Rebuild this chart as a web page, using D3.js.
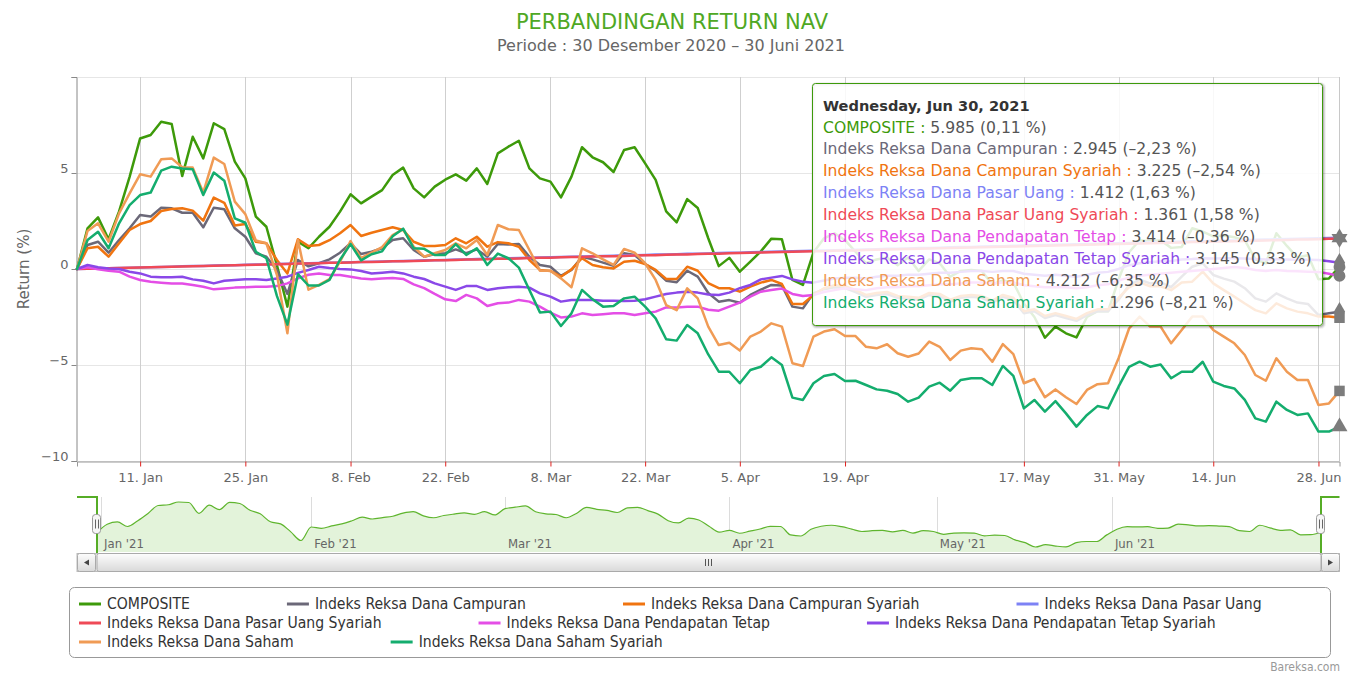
<!DOCTYPE html>
<html>
<head>
<meta charset="utf-8">
<script src="https://d3js.org/d3.v7.min.js"></script>
<style>
  body { margin: 0; background: #fff; }
  svg { display: block; }
</style>
</head>
<body>
<svg id="chart" width="1361" height="674"></svg>
<script>
// trading days (ordinal axis, holidays skipped)
const daysDec2020 = [30];
const daysJan = [4,5,6,7,8,11,12,13,14,15,18,19,20,21,22,25,26,27,28,29];
const daysFeb = [1,2,3,4,5,8,9,10,11,15,16,17,18,19,22,23,24,25,26];
const daysMar = [1,2,3,4,5,8,9,10,12,15,16,17,18,19,22,23,24,25,26,29,30,31];
const daysApr = [1,5,6,7,8,9,12,13,14,15,16,19,20,21,22,23,26,27,28,29,30];
const daysMay = [3,4,5,6,7,10,11,17,18,19,20,21,24,25,27,28,31];
const daysJun = [2,3,4,7,8,9,10,11,14,15,16,17,18,21,22,23,24,25,28,29,30];

const seriesNames = [
  "COMPOSITE",
  "Indeks Reksa Dana Campuran",
  "Indeks Reksa Dana Campuran Syariah",
  "Indeks Reksa Dana Pasar Uang",
  "Indeks Reksa Dana Pasar Uang Syariah",
  "Indeks Reksa Dana Pendapatan Tetap",
  "Indeks Reksa Dana Pendapatan Tetap Syariah",
  "Indeks Reksa Dana Saham",
  "Indeks Reksa Dana Saham Syariah"
];
const seriesColors = ["#3d9a0a", "#6b6878", "#f07410", "#7d82f5", "#ef4a57",
                      "#e44ee6", "#8a48e8", "#f09b55", "#14ad6e"];
// hover marker shapes, second entry of each pair = rotation
const markerSymbols = [[d3.symbolCircle, 0], [d3.symbolDiamond, 0], [d3.symbolSquare, 0], [d3.symbolTriangle, 0],
                       [d3.symbolTriangle, 180], [d3.symbolCircle, 0], [d3.symbolDiamond, 0], [d3.symbolSquare, 0],
                       [d3.symbolTriangle, 0]];

// return (%) since 30 Dec 2020
const composite = [
  0, 2.12, 2.69, 1.55, 3.0, 4.8, 6.8, 6.98, 7.67, 7.55,
  4.84, 6.89, 5.76, 7.59, 7.29, 5.59, 4.72, 2.73, 2.2, 0.2,
  -1.96, 1.42, 1.08, 1.68, 2.2, 2.99, 3.89, 3.42, 3.77, 4.11,
  4.9, 5.28, 4.2, 3.73, 4.29, 4.65, 4.93, 4.6, 5.24, 4.43,
  6.02, 6.37, 6.68, 5.24, 4.72, 4.55, 3.73, 4.81, 6.34, 5.82,
  5.56, 5.05, 6.2, 6.34, 5.5, 4.64, 3.0, 2.43, 3.64, 3.18,
  1.6, 0.15, 0.58, -0.14, 0.38, 0.92, 1.58, 1.55, -0.57, -0.83,
  0.86, 1.6, 1.86, 1.5, 0.9, 0.3, 0.5, 0.6, 0.2, 0.6,
  -0.1, 0.5, 0.3, -0.4, -0.1, -0.05, -0.1, -0.8, -0.6, -0.7,
  -1.8, -2.5, -3.58, -3.0, -3.35, -3.56, -2.5, -2.2, -2.2, -0.55,
  0.87, 1.5, 1.45, 1.5, 1.1, 1.15, 2.12, 1.95, 1.7, 1.75,
  1.65, 1.5, 0.5, 0.3, 1.86, 1.2, 0.6, 0.72, -0.53, -0.49,
  0.11
];
const campuran = [
  0, 1.25, 1.42, 0.85, 1.51, 2.12, 2.81, 2.73, 3.19, 3.16,
  2.93, 2.93, 2.17, 3.19, 3.11, 2.12, 1.68, 0.82, 0.64, -0.05,
  -1.3, 0.47, 0.14, 0.3, 0.5, 0.85, 1.34, 0.78, 0.9, 1.08,
  1.51, 1.6, 0.99, 0.64, 0.78, 0.82, 1.02, 0.82, 1.02, 0.64,
  1.3, 1.28, 1.3, 0.64, 0.21, 0.12, -0.36, -0.05, 0.64, 0.5,
  0.33, 0.17, 0.82, 0.73, 0.26, -0.09, -0.61, -0.69, -0.09, -0.4,
  -1.25, -1.7, -1.62, -1.76, -1.35, -1.08, -0.83, -0.86, -1.96, -2.05,
  -1.27, -1.05, -0.95, -1.0, -1.2, -1.45, -1.35, -1.3, -1.5, -1.55,
  -1.6, -1.35, -1.4, -1.7, -1.5, -1.45, -1.5, -1.75, -1.45, -1.6,
  -2.3, -2.2, -2.55, -2.4, -2.55, -2.7, -2.4, -2.2, -2.2, -1.6,
  -0.85, -0.55, -0.75, -0.7, -0.95, -0.4, 0.12, 0.3, -0.31, -0.5,
  -0.66, -1.0, -1.53, -1.7, -1.27, -1.53, -1.75, -1.82, -2.4, -2.31,
  -2.23
];
const campuranSyariah = [
  0, 1.08, 1.16, 0.64, 1.34, 2.03, 2.34, 2.5, 3.02, 3.12,
  3.16, 3.04, 2.52, 3.72, 3.45, 2.26, 2.34, 1.42, 1.34, 0.47,
  -0.23, 1.55, 1.2, 1.25, 1.5, 1.86, 2.29, 1.72, 1.89, 2.03,
  2.17, 2.03, 1.42, 1.2, 1.2, 1.25, 1.6, 1.34, 1.68, 1.16,
  1.4, 1.34, 1.16, 0.47, -0.05, -0.1, -0.4, -0.02, 0.56, 0.21,
  0.09, 0.03, 0.38, 0.43, 0.26, -0.05, -0.52, -0.52, 0.12, -0.09,
  -0.73, -1.0, -1.0, -1.18, -0.92, -0.71, -0.57, -0.78, -1.82, -1.82,
  -1.35, -1.0, -0.85, -0.9, -1.1, -1.35, -1.25, -1.2, -1.4, -1.45,
  -1.5, -1.25, -1.3, -1.6, -1.4, -1.35, -1.4, -1.65, -1.35, -1.5,
  -2.2, -2.1, -2.45, -2.3, -2.45, -2.6, -2.3, -2.1, -2.1, -1.5,
  -0.95, -0.7, -0.9, -0.9, -1.1, -0.7, -0.66, -0.14, -0.75, -1.1,
  -1.44, -1.8, -2.14, -2.31, -1.79, -2.05, -2.22, -2.31, -2.48, -2.48,
  -2.54
];
const pasarUang = [
  0, 0.01, 0.03, 0.04, 0.05, 0.07, 0.08, 0.09, 0.11, 0.12,
  0.14, 0.15, 0.16, 0.18, 0.19, 0.2, 0.22, 0.23, 0.24, 0.26,
  0.27, 0.28, 0.3, 0.31, 0.33, 0.34, 0.35, 0.37, 0.38, 0.39,
  0.41, 0.42, 0.43, 0.45, 0.46, 0.47, 0.49, 0.5, 0.52, 0.53,
  0.54, 0.56, 0.57, 0.58, 0.6, 0.61, 0.62, 0.64, 0.65, 0.66,
  0.68, 0.69, 0.71, 0.72, 0.73, 0.75, 0.76, 0.77, 0.79, 0.8,
  0.81, 0.83, 0.84, 0.85, 0.87, 0.88, 0.9, 0.91, 0.92, 0.94,
  0.95, 0.96, 0.98, 0.99, 1.0, 1.02, 1.03, 1.05, 1.06, 1.07,
  1.09, 1.1, 1.11, 1.13, 1.14, 1.15, 1.17, 1.18, 1.19, 1.21,
  1.22, 1.24, 1.25, 1.26, 1.28, 1.29, 1.3, 1.32, 1.33, 1.34,
  1.36, 1.37, 1.39, 1.4, 1.41, 1.43, 1.44, 1.45, 1.47, 1.48,
  1.49, 1.51, 1.52, 1.53, 1.55, 1.56, 1.58, 1.59, 1.6, 1.62,
  1.63
];
const pasarUangSyariah = [
  0, 0.01, 0.03, 0.04, 0.05, 0.07, 0.08, 0.09, 0.1, 0.12,
  0.13, 0.14, 0.16, 0.17, 0.18, 0.2, 0.21, 0.22, 0.24, 0.25,
  0.26, 0.28, 0.29, 0.3, 0.32, 0.33, 0.34, 0.36, 0.37, 0.38,
  0.4, 0.41, 0.42, 0.43, 0.45, 0.46, 0.47, 0.49, 0.5, 0.51,
  0.53, 0.54, 0.55, 0.57, 0.58, 0.59, 0.61, 0.62, 0.63, 0.65,
  0.66, 0.67, 0.68, 0.7, 0.71, 0.72, 0.74, 0.75, 0.76, 0.78,
  0.79, 0.8, 0.82, 0.83, 0.84, 0.86, 0.87, 0.88, 0.9, 0.91,
  0.92, 0.93, 0.95, 0.96, 0.97, 0.99, 1.0, 1.01, 1.03, 1.04,
  1.05, 1.07, 1.08, 1.09, 1.11, 1.12, 1.13, 1.15, 1.16, 1.17,
  1.18, 1.2, 1.21, 1.22, 1.24, 1.25, 1.26, 1.28, 1.29, 1.3,
  1.32, 1.33, 1.34, 1.36, 1.37, 1.38, 1.4, 1.41, 1.42, 1.43,
  1.45, 1.46, 1.47, 1.49, 1.5, 1.51, 1.53, 1.54, 1.55, 1.57,
  1.58
];
const pendapatanTetap = [
  0, 0.09, -0.02, -0.09, -0.14, -0.4, -0.57, -0.66, -0.71, -0.75,
  -0.75, -0.83, -0.92, -1.06, -1.01, -0.97, -0.95, -0.92, -0.92, -0.89,
  -0.75, -0.49, -0.3, -0.23, -0.31, -0.31, -0.4, -0.49, -0.54, -0.49,
  -0.47, -0.52, -0.8, -1.0, -1.3, -1.58, -1.67, -1.35, -1.53, -1.93,
  -1.78, -1.75, -1.61, -1.7, -1.96, -2.27, -2.52, -2.48, -2.31, -2.4,
  -2.36, -2.31, -2.31, -2.4, -2.31, -2.22, -2.0, -2.0, -1.96, -1.96,
  -2.12, -2.17, -1.96, -1.75, -1.44, -1.18, -1.09, -1.02, -1.3, -1.41,
  -1.35, -1.2, -1.1, -1.0, -1.05, -1.1, -1.0, -0.95, -0.95, -0.9,
  -0.9, -0.85, -0.8, -0.8, -0.75, -0.7, -0.7, -0.75, -0.7, -0.7,
  -0.85, -0.9, -0.95, -0.95, -0.95, -1.0, -0.95, -0.85, -0.8, -0.6,
  -0.45, -0.35, -0.3, -0.25, -0.2, -0.14, -0.1, -0.05, 0.0, 0.05,
  0.1, 0.05, -0.05, -0.1, -0.05, -0.1, -0.12, -0.14, -0.15, -0.25,
  -0.36
];
const pendapatanTetapSyariah = [
  0, 0.21, 0.09, 0.03, 0.0, -0.14, -0.23, -0.4, -0.43, -0.43,
  -0.4, -0.54, -0.61, -0.75, -0.61, -0.57, -0.54, -0.54, -0.57, -0.49,
  -0.4, -0.2, -0.05, 0.12, 0.05, 0.0, -0.02, -0.1, -0.23, -0.19,
  -0.14, -0.23, -0.4, -0.52, -0.75, -0.92, -1.09, -0.89, -0.89, -1.09,
  -1.0, -0.95, -0.92, -0.97, -1.27, -1.44, -1.7, -1.61, -1.61, -1.61,
  -1.65, -1.65, -1.67, -1.65, -1.58, -1.44, -1.3, -1.23, -1.18, -1.23,
  -1.33, -1.35, -1.23, -1.0, -0.83, -0.54, -0.45, -0.36, -0.54, -0.66,
  -0.71, -0.6, -0.5, -0.45, -0.45, -0.5, -0.4, -0.35, -0.35, -0.3,
  -0.3, -0.25, -0.2, -0.2, -0.15, -0.1, -0.1, -0.15, -0.1, -0.1,
  -0.25, -0.3, -0.35, -0.3, -0.35, -0.4, -0.3, -0.2, -0.15, 0.0,
  0.2, 0.3, 0.35, 0.4, 0.42, 0.5, 0.52, 0.56, 0.55, 0.56,
  0.56, 0.55, 0.52, 0.5, 0.52, 0.5, 0.48, 0.48, 0.47, 0.4,
  0.33
];
const saham = [
  0, 1.98, 2.38, 1.42, 2.9, 3.94, 4.93, 4.81, 5.71, 5.76,
  5.3, 5.28, 3.98, 5.8, 5.47, 3.51, 2.86, 1.48, 1.34, -0.3,
  -3.35, 1.51, -1.08, -0.83, -0.53, 0.38, 1.45, 0.57, 0.86, 1.14,
  1.77, 2.06, 1.16, 0.64, 0.82, 0.99, 1.34, 1.08, 1.51, 0.73,
  2.29, 2.07, 2.03, 0.99, -0.09, -0.09, -0.49, -0.95, 1.08, 0.82,
  0.5, 0.21, 1.04, 0.85, 0.3, -0.57, -1.88, -2.14, -1.01, -1.53,
  -3.0, -3.96, -3.84, -4.25, -3.52, -3.26, -2.83, -3.0, -4.91, -5.05,
  -3.52, -3.26, -3.14, -3.49, -3.49, -4.05, -4.13, -3.92, -4.39, -4.57,
  -4.4, -3.78, -4.05, -4.74, -4.25, -4.13, -4.18, -4.83, -3.91, -4.43,
  -5.95, -5.73, -6.68, -6.27, -6.68, -7.03, -6.3, -6.0, -5.95, -4.65,
  -3.1, -2.48, -3.0, -3.0, -3.87, -3.18, -2.48, -2.48, -3.18, -3.52,
  -3.87, -4.48, -5.52, -5.82, -4.65, -5.35, -5.78, -5.78, -7.08, -7.0,
  -6.35
];
const sahamSyariah = [
  0, 1.51, 1.94, 1.08, 2.38, 3.33, 3.85, 3.98, 5.12, 5.33,
  5.24, 5.19, 3.85, 5.02, 4.6, 2.64, 2.41, 0.9, 0.56, -1.4,
  -2.9, -0.27, -0.86, -0.86, -0.57, 0.48, 1.3, 0.45, 0.77, 0.92,
  1.7, 2.1, 1.08, 1.05, 0.73, 0.73, 1.3, 0.73, 1.08, 0.21,
  0.8, 0.56, 0.07, -1.09, -2.26, -2.22, -2.97, -2.31, -1.09, -1.58,
  -1.96, -1.93, -1.53, -1.44, -1.96, -2.57, -3.66, -3.73, -2.92, -3.35,
  -4.45, -5.35, -5.35, -5.95, -5.26, -5.09, -4.6, -5.0, -6.7, -6.82,
  -5.95, -5.57, -5.47, -5.83, -5.82, -6.04, -6.27, -6.34, -6.51, -6.91,
  -6.7, -6.13, -5.92, -6.34, -5.78, -5.69, -5.69, -6.04, -5.05, -5.57,
  -7.26, -6.82, -7.43, -6.88, -7.52, -8.21, -7.6, -7.14, -7.26, -6.13,
  -5.1, -4.83, -5.09, -4.97, -5.69, -5.35, -5.35, -4.83, -5.87, -6.09,
  -6.22, -6.82, -7.78, -7.95, -6.91, -7.34, -7.6, -7.52, -8.47, -8.47,
  -8.21
];
// last NAV / index level shown in the tooltip
const lastNav = [5985, 2945, 3225, 1412, 1361, 3414, 3145, 4212, 1296];

const xTickDates = ["2021-01-11", "2021-01-25", "2021-02-08", "2021-02-22", "2021-03-08", "2021-03-22",
                    "2021-04-05", "2021-04-19", "2021-05-17", "2021-05-31", "2021-06-14", "2021-06-28"];
const yTickValues = [-10, -5, 0, 5, 10];
const navTickDates = ["2021-01-01", "2021-02-01", "2021-03-01", "2021-04-01", "2021-05-01", "2021-06-01"];
const legendRows = [[0, 1, 2, 3], [4, 5, 6], [7, 8]];

const allSeries = [composite, campuran, campuranSyariah, pasarUang, pasarUangSyariah,
                   pendapatanTetap, pendapatanTetapSyariah, saham, sahamSyariah];

// build dates
const parse = d3.timeParse("%Y-%m-%d");
const dates = [];
[["2020-12", daysDec2020], ["2021-01", daysJan], ["2021-02", daysFeb], ["2021-03", daysMar],
 ["2021-04", daysApr], ["2021-05", daysMay], ["2021-06", daysJun]].forEach(([m, ds]) => {
  ds.forEach(d => dates.push(parse(m + "-" + String(d).padStart(2, "0"))));
});
const last = dates.length - 1;

// position of any date on the ordinal axis (interpolated between trading days)
function ordinalPos(date) {
  const t = +date;
  const i = d3.bisector(d => +d).left(dates, t);
  if (i < dates.length && +dates[i] === t) return i;
  if (i === 0) return 0;
  const a = +dates[i - 1], b = +dates[i];
  return i - 1 + (t - a) / (b - a);
}

const FONT = "'DejaVu Sans', Verdana, sans-serif";
const NARROW = "'DejaVu Sans Condensed', 'Liberation Sans Narrow', 'Roboto Condensed', 'DejaVu Sans', sans-serif";

const svg = d3.select("#chart");
const plotLeft = 77, plotRight = 1339.5, plotTop = 77, plotBottom = 461;

const x = d3.scaleLinear().domain([0, last]).range([plotLeft, plotRight]);
const y = d3.scaleLinear().domain([-10, 10]).range([plotBottom, plotTop]);

// title
svg.append("text").attr("x", 672).attr("y", 29).attr("text-anchor", "middle")
  .attr("font-family", FONT).attr("font-size", 21).attr("fill", "#4fa824")
  .text("PERBANDINGAN RETURN NAV");
svg.append("text").attr("x", 671).attr("y", 51).attr("text-anchor", "middle")
  .attr("font-family", FONT).attr("font-size", 16).attr("fill", "#666")
  .text("Periode : 30 Desember 2020 \u2013 30 Juni 2021");

// grid
const tickIdx = xTickDates.map(s => ordinalPos(parse(s)));
svg.append("g").selectAll("line").data(yTickValues).join("line")
  .attr("x1", plotLeft).attr("x2", plotRight)
  .attr("y1", d => Math.round(y(d)) + 0.5).attr("y2", d => Math.round(y(d)) + 0.5)
  .attr("stroke", "#e6e6e6");
svg.append("g").selectAll("line").data(tickIdx).join("line")
  .attr("x1", d => Math.round(x(d)) + 0.5).attr("x2", d => Math.round(x(d)) + 0.5)
  .attr("y1", plotTop).attr("y2", plotBottom)
  .attr("stroke", "#cfcfcf");

// crosshair at hovered point
svg.append("line").attr("x1", Math.round(x(last)) - 0.5).attr("x2", Math.round(x(last)) - 0.5)
  .attr("y1", plotTop).attr("y2", plotBottom).attr("stroke", "#c8c8c8");

// axes
const xAxis = d3.axisBottom(x).tickValues(tickIdx).tickSize(5).tickPadding(6)
  .tickFormat(i => d3.timeFormat("%-d. %b")(dates[Math.round(i)]));
const gx = svg.append("g").attr("transform", `translate(0,${plotBottom + 0.5})`).call(xAxis);
gx.select(".domain").attr("stroke", "#999");
gx.selectAll(".tick line").attr("stroke", "#e0201e");
gx.selectAll(".tick text").attr("font-family", FONT).attr("font-size", 13).attr("fill", "#666");

const yAxis = d3.axisLeft(y).tickValues(yTickValues).tickSize(5).tickPadding(3)
  .tickFormat(d => d === 10 ? "" : d3.format("d")(d));
const gy = svg.append("g").attr("transform", `translate(${plotLeft - 0.5},0)`).call(yAxis);
gy.select(".domain").attr("stroke", "#888");
gy.selectAll(".tick line").attr("stroke", "#888");
gy.selectAll(".tick text").attr("font-family", FONT).attr("font-size", 13).attr("fill", "#666")
  .attr("dy", "-0.02em");

svg.append("text").attr("transform", "translate(29,269) rotate(-90)").attr("text-anchor", "middle")
  .attr("font-family", FONT).attr("font-size", 15).attr("fill", "#666").text("Return (%)");

// series
const line = d3.line().x((d, i) => x(i)).y(d => y(d));
const gs = svg.append("g").attr("fill", "none");
allSeries.forEach((s, k) => {
  gs.append("path").attr("d", line(s)).attr("stroke", seriesColors[k])
    .attr("stroke-width", 2.5).attr("stroke-linejoin", "round").attr("stroke-linecap", "round");
});

// hover markers on last point
const gm = svg.append("g");
allSeries.forEach((s, k) => {
  const [sym, rot] = markerSymbols[k];
  gm.append("path").attr("d", d3.symbol(sym, 110)())
    .attr("transform", `translate(${x(last)},${y(s[last])}) rotate(${rot})`)
    .attr("fill", "#7c7c7c");
});

// tooltip
const tip = svg.append("g");
const tipX = 812.5, tipY = 83.5, tipW = 510, tipH = 242;
[[5, 0.05], [3, 0.1], [1, 0.15]].forEach(([w, o]) => {
  tip.append("rect").attr("x", tipX + 1).attr("y", tipY + 1).attr("width", tipW).attr("height", tipH)
    .attr("rx", 3).attr("fill", "none").attr("stroke", "#000").attr("stroke-opacity", o).attr("stroke-width", w);
});
tip.append("rect").attr("x", tipX).attr("y", tipY).attr("width", tipW).attr("height", tipH).attr("rx", 3)
  .attr("fill", "#fff").attr("fill-opacity", 0.85).attr("stroke", seriesColors[0]).attr("stroke-width", 1);

const idLocale = d3.formatLocale({decimal: ",", thousands: ".", grouping: [3], currency: ["", ""], minus: "\u2013"});
const fmtNav = idLocale.format(",d");
const fmtPct = idLocale.format(".2f");

tip.append("text").attr("x", 823).attr("y", 111).attr("font-family", FONT).attr("font-size", 14.6)
  .attr("font-weight", "bold").attr("fill", "#333")
  .text(d3.timeFormat("%A, %b %d, %Y")(dates[last]));
allSeries.forEach((s, k) => {
  const t = tip.append("text").attr("x", 823).attr("y", 132.5 + k * 21.9)
    .attr("font-family", FONT).attr("font-size", 15.6);
  t.append("tspan").attr("fill", seriesColors[k]).text(seriesNames[k] + " :");
  t.append("tspan").attr("fill", "#555").text(" " + fmtNav(lastNav[k]) + " (" + fmtPct(s[last]) + " %)");
});

// navigator
const navLeft = 97, navRight = 1321, navTop = 497, navBottom = 552;
const nx = d3.scaleLinear().domain([0, last]).range([navLeft, navRight]);
const ny = d3.scaleLinear().domain(d3.extent(composite)).range([547, 502]);
const navG = svg.append("g");
const navTickIdx = navTickDates.map(s => ordinalPos(parse(s)));
navG.selectAll("line.grid").data(navTickIdx).join("line").attr("class", "grid")
  .attr("x1", d => Math.round(nx(d)) + 0.5).attr("x2", d => Math.round(nx(d)) + 0.5)
  .attr("y1", navTop).attr("y2", navBottom).attr("stroke", "#dcdcdc");
navG.append("path")
  .attr("d", d3.area().curve(d3.curveMonotoneX).x((d, i) => nx(i)).y0(navBottom).y1(d => ny(d))(composite))
  .attr("fill", "#e3f3da");
navG.append("path")
  .attr("d", d3.line().curve(d3.curveMonotoneX).x((d, i) => nx(i)).y(d => ny(d))(composite))
  .attr("fill", "none").attr("stroke", "#5fb52e").attr("stroke-width", 1.2);
navG.selectAll("text").data(navTickDates).join("text")
  .attr("x", (d, i) => nx(navTickIdx[i]) + 3).attr("y", 548)
  .attr("font-family", NARROW).attr("font-size", 13).attr("fill", "#666")
  .text(d => d3.timeFormat("%b '%y")(parse(d)));
// outline
navG.append("path").attr("d", `M${plotLeft},${navTop}H${navLeft}V${navBottom + 1}M${navRight},${navBottom + 1}V${navTop}H${plotRight}`)
  .attr("fill", "none").attr("stroke", "#56ad26").attr("stroke-width", 2);
// handles
[navLeft, navRight].forEach(hx => {
  const h = navG.append("g").attr("transform", `translate(${hx},524)`);
  h.append("rect").attr("x", -4.5).attr("y", -9.5).attr("width", 8).attr("height", 19).attr("rx", 3)
    .attr("fill", "#f6f6f6").attr("stroke", "#999");
  h.append("path").attr("d", "M-1.5,-4.5V4.5M1.5,-4.5V4.5").attr("stroke", "#666").attr("stroke-width", 1);
});

// scrollbar
const defs = svg.append("defs");
const grad = defs.append("linearGradient").attr("id", "sbGrad").attr("x1", 0).attr("y1", 0).attr("x2", 0).attr("y2", 1);
grad.append("stop").attr("offset", "0%").attr("stop-color", "#fdfdfd");
grad.append("stop").attr("offset", "100%").attr("stop-color", "#d9d9d9");
const sbY = 553.5, sbH = 18;
const sb = svg.append("g");
sb.append("rect").attr("x", plotLeft).attr("y", sbY).attr("width", plotRight - plotLeft).attr("height", sbH)
  .attr("fill", "#eee").attr("stroke", "#bbb");
sb.append("rect").attr("x", navLeft).attr("y", sbY).attr("width", navRight - navLeft).attr("height", sbH)
  .attr("rx", 2).attr("fill", "url(#sbGrad)").attr("stroke", "#aaa");
sb.append("path").attr("d", "M705.5,559V566M708.5,559V566M711.5,559V566").attr("stroke", "#555");
[[plotLeft, "M89,559.5L84,562.5L89,565.5Z"], [navRight, "M1328,559.5L1333,562.5L1328,565.5Z"]].forEach(([bx, arrow]) => {
  sb.append("rect").attr("x", bx + 0.5).attr("y", sbY).attr("width", 18).attr("height", sbH).attr("rx", 2)
    .attr("fill", "url(#sbGrad)").attr("stroke", "#aaa");
  sb.append("path").attr("d", arrow).attr("fill", "#444");
});

// legend
const lg = svg.append("g");
lg.append("rect").attr("x", 69.5).attr("y", 587.5).attr("width", 1261).attr("height", 70).attr("rx", 5)
  .attr("fill", "#fff").attr("stroke", "#999");
legendRows.forEach((row, r) => {
  let lx = 79;
  const cy = 604 + r * 19;
  row.forEach(k => {
    lg.append("line").attr("x1", lx).attr("x2", lx + 22).attr("y1", cy).attr("y2", cy)
      .attr("stroke", seriesColors[k]).attr("stroke-width", 3);
    const t = lg.append("text").attr("x", lx + 28).attr("y", cy + 5)
      .attr("font-family", NARROW).attr("font-size", 15.6).attr("fill", "#333").text(seriesNames[k]);
    lx = lx + 28 + t.node().getComputedTextLength() + 97;
  });
});

// credits
svg.append("text").attr("x", 1340).attr("y", 671).attr("text-anchor", "end")
  .attr("font-family", NARROW).attr("font-size", 12).attr("fill", "#999").text("Bareksa.com");
</script>
</body>
</html>
